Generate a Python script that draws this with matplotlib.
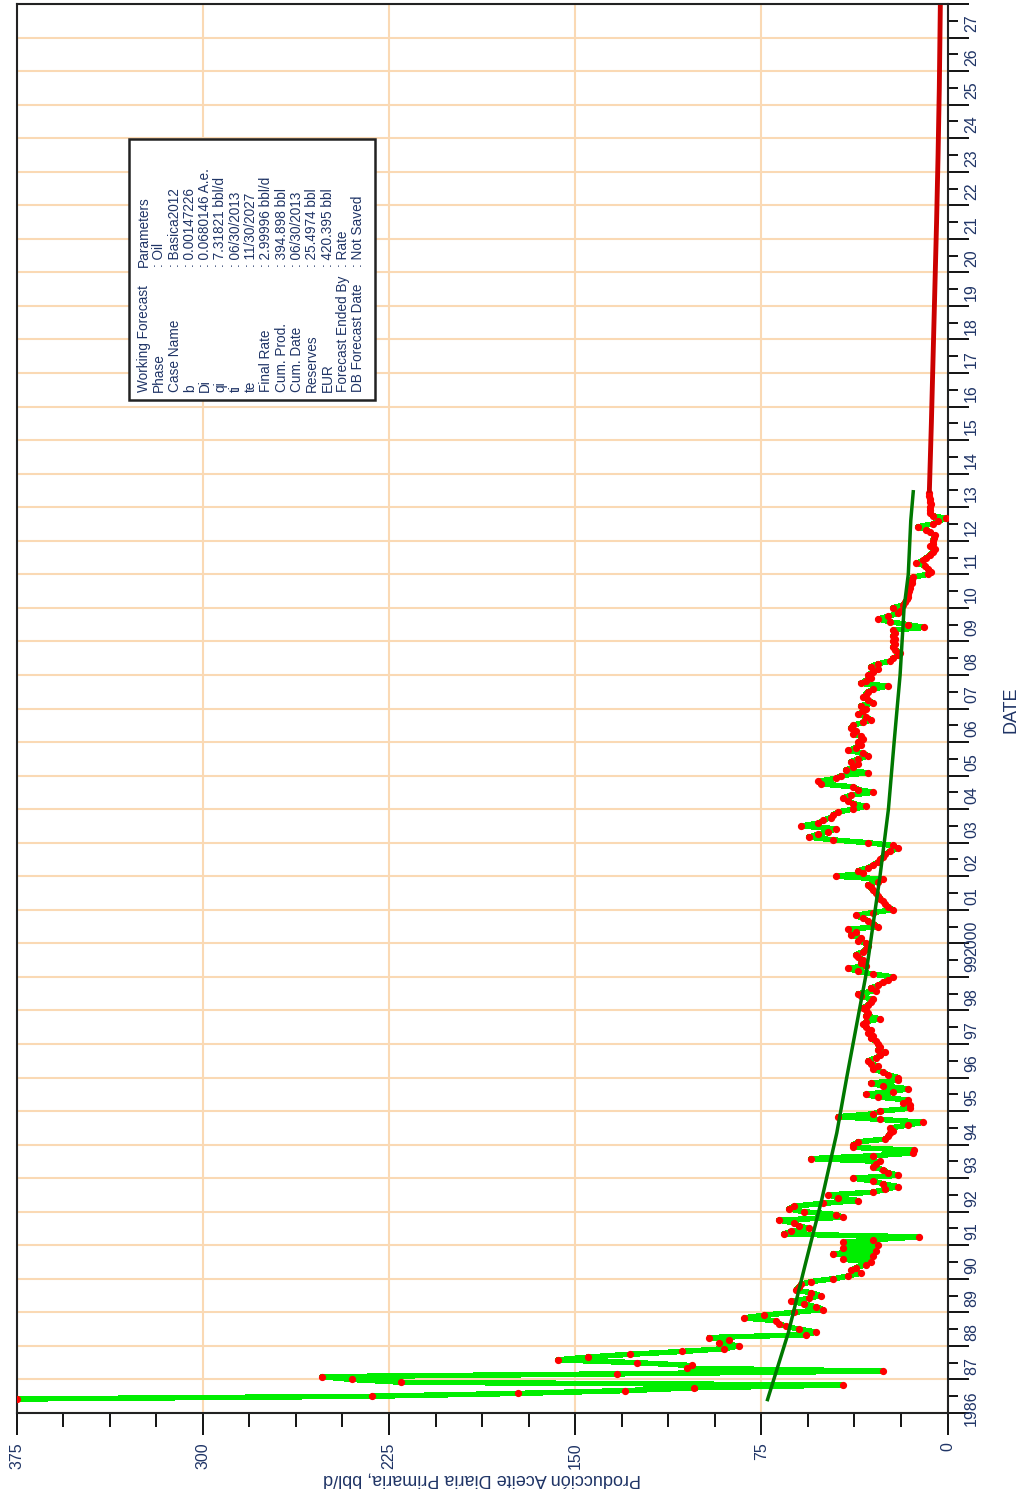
import matplotlib.pyplot as plt
from matplotlib.ticker import FixedLocator, FixedFormatter, MultipleLocator
from matplotlib.patches import Rectangle

# monthly oil rate (bbl/d), first month = June 1986
start_year, start_month = 1986, 6
oil_rate = [
    375, 232, 173, 130, 102, 42, 220,                       # 1986
    240, 252, 133, 26, 105, 103, 125, 157, 145, 128, 107, 90,  # 1987
    84, 92, 88, 96, 57, 53, 60, 65, 68, 69, 82, 74,          # 1988
    62, 50, 53, 58, 63, 56, 51, 55, 61, 60, 59, 55,          # 1989
    46, 40, 35, 39, 37, 33, 31, 42, 30, 46, 29, 42,          # 1990
    28, 42, 30, 11.5, 66, 63, 56, 60, 62, 68, 42, 45,        # 1991
    58, 64, 62, 50, 36, 44, 48, 30, 25, 20, 26, 30,          # 1992
    38, 20, 24, 26, 30, 29, 27, 55, 30, 14, 13.5, 38,        # 1993
    38, 36, 25, 24, 23, 22, 23, 16, 10, 27, 44, 30,          # 1994
    27, 15, 15, 18, 16, 28, 33, 22, 16, 26, 31, 20,          # 1995
    20, 24, 26, 30, 28, 31, 32, 29, 27, 25, 28, 27,          # 1996
    28, 29, 31, 30, 32, 31, 33, 34, 33, 27, 33, 32,          # 1997
    33, 34, 32, 31, 30, 35, 36, 29, 31, 28, 26, 24,          # 1998
    22, 30, 36, 40, 33, 35, 34, 36, 37, 34, 33, 32,          # 1999
    33, 36, 35, 39, 37, 40, 28, 30, 32, 34, 37, 30,          # 2000
    22, 24, 25, 26, 27, 28, 29, 30, 31, 32, 28, 26,          # 2001
    45, 34, 36, 32, 30, 28, 27, 26, 25, 23, 20, 22,          # 2002
    32, 46, 56, 52, 48, 45, 59, 52, 50, 47, 46, 44,          # 2003
    38, 33, 38, 40, 42, 39, 30, 36, 38, 51, 52, 45,          # 2004
    43, 32, 41, 38, 36, 39, 36, 32, 34, 40, 37, 35,          # 2005
    36, 34, 35, 38, 37, 39, 38, 34, 31, 33, 36, 34,          # 2006
    33, 35, 30, 32, 34, 33, 32, 30, 24, 35, 33, 31,          # 2007
    32, 30, 28, 31, 28, 23, 22, 20, 19, 21, 22, 21,          # 2008
    22, 21, 22, 21, 22, 9.5, 16, 23, 28, 24, 20, 19,         # 2009
    22, 18, 17, 16.5, 16, 16, 15.5, 15, 15, 14.5, 14.5, 14,  # 2010
    8, 6.5, 8, 9, 12.5, 10, 8.5, 7, 6, 5, 7, 6,              # 2011
    6, 5.5, 5, 7, 8.5, 12, 6, 4, 0.5, 6, 7, 7,               # 2012
    7, 6.5, 7, 7.2, 7.3, 7.3,                                # 2013
]

# fitted decline curve
decline_year = [1986.4, 1988.4, 1990.4, 1992.35, 1994.35, 1996.0, 1999.0, 2002.0,
                2004.0, 2006.0, 2008.0, 2010.0, 2011.0, 2012.6, 2013.46]
decline_rate = [72.5, 64.1, 57.4, 50.7, 44.6, 40.6, 33.0, 27.2,
                23.8, 21.5, 19.1, 17.5, 15.8, 14.8, 13.8]

# forecast
forecast_year = [2013.5, 2015.5, 2017.5, 2019.5, 2021.5, 2023.5, 2025.5, 2027.9]
forecast_rate = [7.3, 6.5, 5.8, 5.1, 4.4, 3.8, 3.3, 2.9]

years = list(range(1986, 2028))
year_labels = ['1986' if y == 1986 else '2000' if y == 2000 else '%02d' % (y % 100) for y in years]

param_names = ['Working Forecast', 'Phase', 'Case Name', 'b', 'Di', 'qi', 'ti', 'te',
               'Final Rate', 'Cum. Prod.', 'Cum. Date', 'Reserves', 'EUR',
               'Forecast Ended By', 'DB Forecast Date']
param_values = ['Parameters', ': Oil', ': Basica2012', ': 0.00147226', ': 0.0680146 A.e.',
                ': 7.31821 bbl/d', ': 06/30/2013', ': 11/30/2027', ': 2.99996 bbl/d',
                ': 394.898 bbl', ': 06/30/2013', ': 25.4974 bbl', ': 420.395 bbl',
                ': Rate', ': Not Saved']

plt.rcParams['font.family'] = ['Liberation Sans', 'DejaVu Sans']
txt_color = '#1f3466'

W, H = 1029, 1497
fig = plt.figure(figsize=(W / 100, H / 100), dpi=100)
ax = fig.add_axes([16.7 / W, 1 - 1413 / H, (947.5 - 16.7) / W, (1413 - 4) / H])

dates = [start_year + (start_month - 1 + i) / 12 for i in range(len(oil_rate))]

ax.plot(oil_rate, dates, color='#00ee00', lw=3.2, marker='o', ms=4.2,
        mfc='red', mec='red', zorder=3, antialiased=False)
ax.plot(decline_rate, decline_year, color='#007800', lw=2.5, zorder=4)
ax.plot(forecast_rate, forecast_year, color='#cc0000', lw=3.5, zorder=4)

ax.set_xlim(375, 0)
ax.set_ylim(1986, 2028)

ax.xaxis.set_major_locator(MultipleLocator(75))
ax.xaxis.set_minor_locator(MultipleLocator(18.75))
ax.yaxis.set_major_locator(FixedLocator(years + [2028]))
ax.yaxis.set_major_formatter(FixedFormatter([''] * (len(years) + 1)))
ax.yaxis.set_minor_locator(FixedLocator([y + 0.5 for y in years]))
ax.yaxis.set_minor_formatter(FixedFormatter(year_labels))

ax.tick_params(axis='x', which='major', length=16, width=1.3, pad=5,
               labelsize=11.5, labelrotation=90, labelcolor=txt_color)
ax.tick_params(axis='x', which='minor', length=10, width=1.3)
ax.tick_params(axis='y', which='both', left=False, right=True,
               labelleft=False, labelright=True)
ax.tick_params(axis='y', which='major', length=15, width=1.3)
ax.tick_params(axis='y', which='minor', length=7, width=1.3, pad=5,
               labelsize=11.5, labelrotation=90, labelcolor=txt_color)

ax.grid(which='major', color='#fad9b4', lw=1.5)
ax.set_axisbelow(True)
for s in ax.spines.values():
    s.set_linewidth(1.5)
    s.set_color('#222222')

fig.text(482 / W, 1 - 1479 / H, 'Producción Aceite Diaria Primaria, bbl/d',
         rotation=180, ha='center', va='center', fontsize=13, color=txt_color)
fig.text(1011 / W, 1 - 710 / H, 'DATE', rotation=90, ha='center', va='center',
         fontsize=13, color=txt_color)

# parameters box
fig.patches.append(Rectangle((129 / W, 1 - 400 / H), (375 - 129) / W, (400 - 139) / H,
                             transform=fig.transFigure, facecolor='white',
                             edgecolor='#222222', lw=1.8, zorder=5))
for i, (name, val) in enumerate(zip(param_names, param_values)):
    x = (144 + 15.3 * i) / W
    fig.text(x, 1 - 392 / H, name, rotation=90, ha='center', va='bottom',
             fontsize=9.8, color=txt_color, zorder=6)
    fig.text(x, 1 - 267 / H, val, rotation=90, ha='center', va='bottom',
             fontsize=9.8, color=txt_color, zorder=6)

fig.savefig('out.png', dpi=100)
